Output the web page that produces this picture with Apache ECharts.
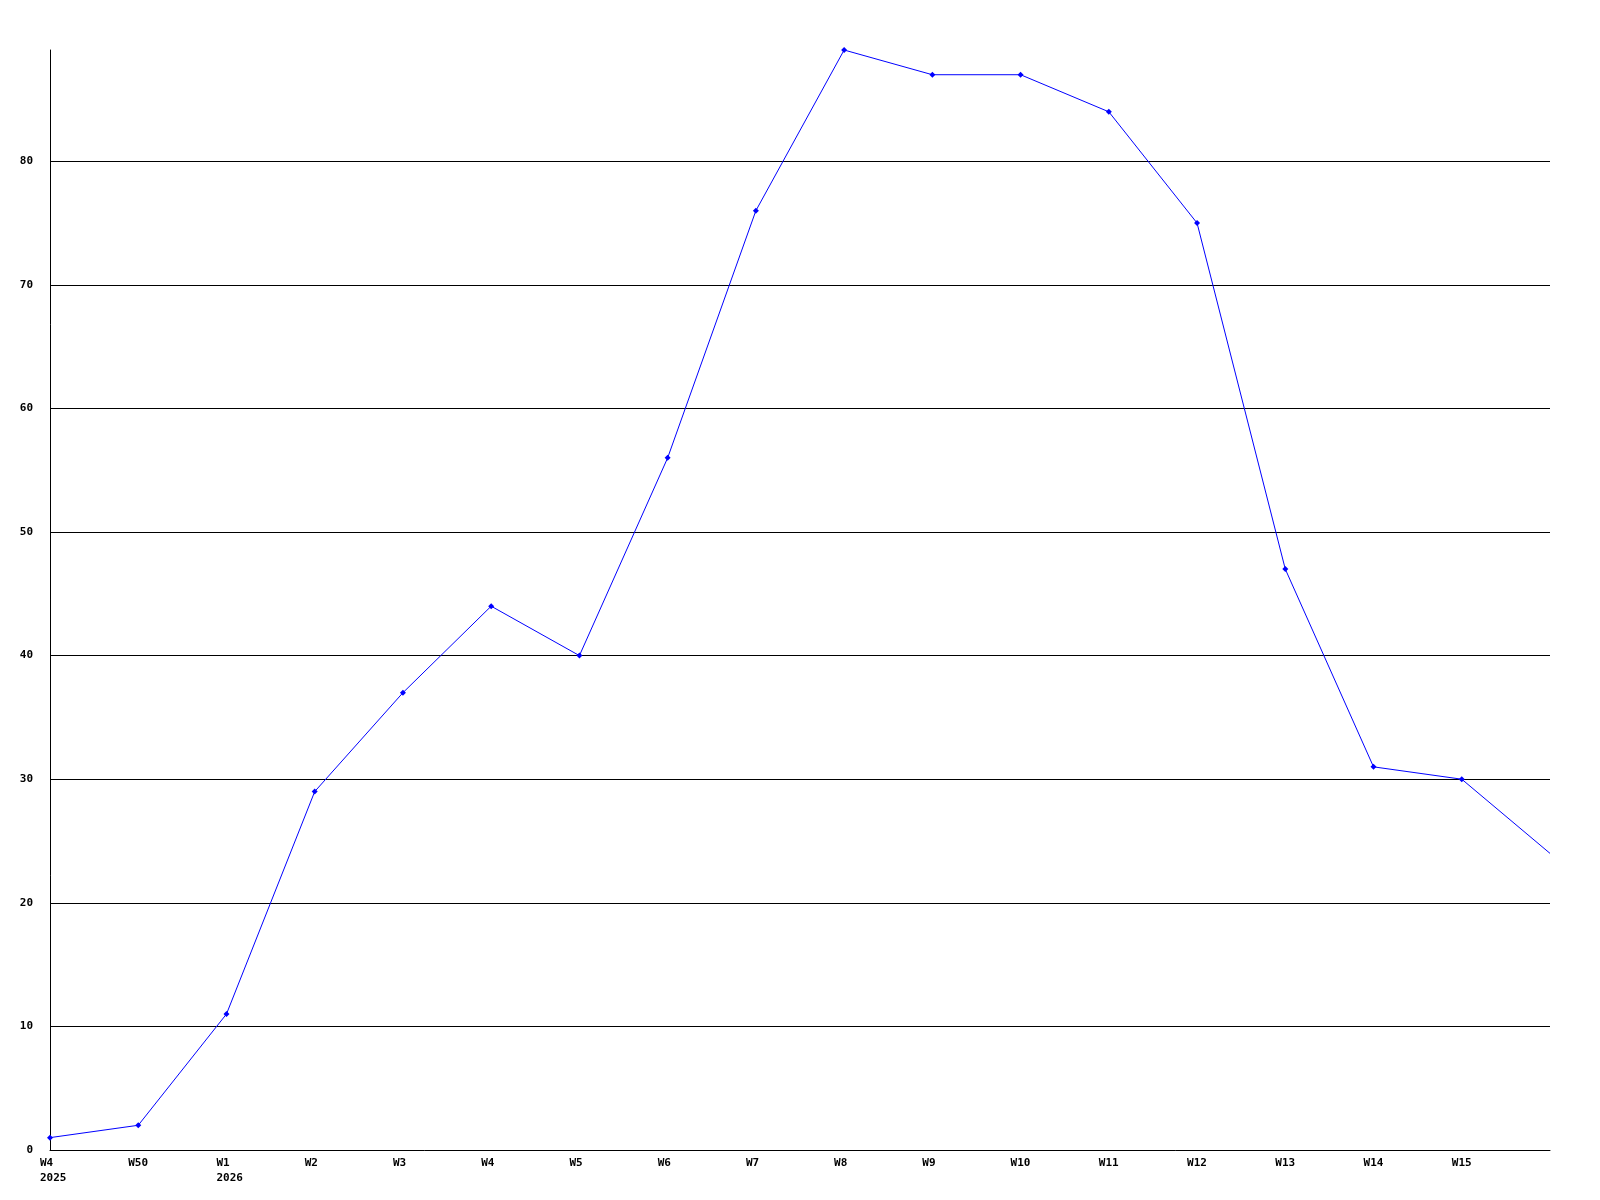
<!DOCTYPE html>
<html>
<head>
<meta charset="utf-8">
<script src="https://cdn.jsdelivr.net/npm/echarts@6/dist/echarts.min.js"></script>
<style>html,body{margin:0;padding:0;background:#fff}#c{width:1600px;height:1200px}</style>
</head>
<body>
<div id="c"></div>
<script>
const weeks = ['W4','W50','W1','W2','W3','W4','W5','W6','W7','W8','W9','W10','W11','W12','W13','W14','W15',''];
const years = ['2025','','2026','','','','','','','','','','','','','','',''];
const values = [1,2,11,29,37,44,40,56,76,89,87,87,84,75,47,31,30,24];
const yTicks = [0,10,20,30,40,50,60,70,80];

const chart = echarts.init(document.getElementById('c'), null, {renderer:'canvas'});
const font = '"DejaVu Sans Mono", monospace';
chart.setOption({
  animation: false,
  backgroundColor: '#ffffff',
  grid: {left: 50, right: 50, top: 50, bottom: 50, containLabel: false},
  xAxis: {
    type: 'category',
    data: weeks.map((w, i) => years[i] ? w + '\n' + years[i] : w),
    boundaryGap: false,
    axisLine: {show: true, lineStyle: {color: '#000', width: 1}},
    axisTick: {show: false},
    splitLine: {show: false},
    axisLabel: {
      interval: 0,
      margin: 6,
      align: 'center',
      fontFamily: font,
      fontSize: 11,
      fontWeight: 'bold',
      color: '#000',
      lineHeight: 15,
      formatter: function (v) {
        return v.split('\n').map(s => '{a|' + s + '}').join('\n');
      },
      rich: {a: {width: 20, align: 'left', fontFamily: font, fontSize: 11, fontWeight: 'bold', color: '#000', lineHeight: 15}}
    }
  },
  yAxis: {
    type: 'value',
    min: 0,
    max: 89,
    interval: 10,
    axisLine: {show: true, lineStyle: {color: '#000', width: 1}},
    axisTick: {show: false},
    splitLine: {show: true, showMaxLine: false, showMinLine: false, lineStyle: {color: '#000', width: 1}},
    axisLabel: {
      margin: 17,
      fontFamily: font,
      fontSize: 11,
      fontWeight: 'bold',
      color: '#000',
      showMaxLabel: false,
      formatter: function (v) { return yTicks.indexOf(v) >= 0 ? String(v) : ''; }
    }
  },
  series: [{
    type: 'line',
    data: values.map((v, i) => i === values.length - 1 ? {value: v, symbol: 'none'} : v),
    symbol: 'diamond',
    symbolSize: 6,
    showAllSymbol: true,
    lineStyle: {color: '#0000ff', width: 1},
    itemStyle: {color: '#0000ff'},
    clip: true
  }]
});
</script>
</body>
</html>
